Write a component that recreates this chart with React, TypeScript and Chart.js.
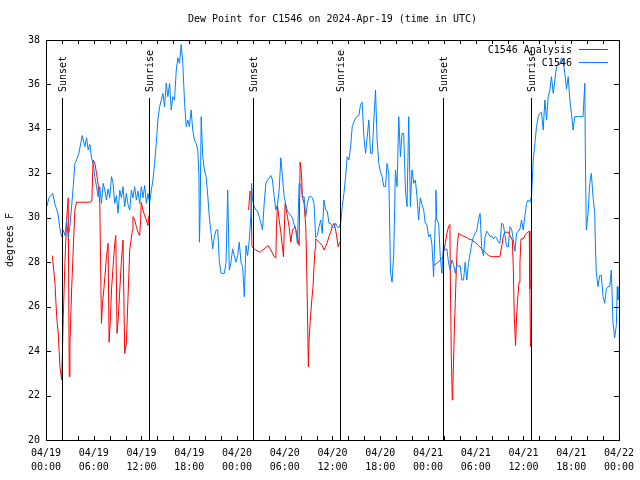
import React, { useEffect, useRef } from 'react';
import { Chart, registerables } from 'chart.js';

Chart.register(...registerables);

const TITLE = 'Dew Point for C1546 on 2024-Apr-19 (time in UTC)';
const Y_AXIS_TITLE = 'degrees F';
const SERIES_NAMES = ['C1546 Analysis', 'C1546'];
const SERIES_COLORS = ['#ff0000', '#0080ff'];

const X_TICK_DATES = ['04/19', '04/19', '04/19', '04/19', '04/20', '04/20', '04/20', '04/20', '04/21', '04/21', '04/21', '04/21', '04/22'];
const X_TICK_TIMES = ['00:00', '06:00', '12:00', '18:00', '00:00', '06:00', '12:00', '18:00', '00:00', '06:00', '12:00', '18:00', '00:00'];
const Y_TICK_LABELS = ['20', '22', '24', '26', '28', '30', '32', '34', '36', '38'];

// hours since 2024-04-19 00:00 UTC
const SUN_HOURS = [2.0, 12.94, 25.96, 36.9, 49.88, 60.9];
const SUN_LABELS = ['Sunset', 'Sunrise', 'Sunset', 'Sunrise', 'Sunset', 'Sunrise'];

const OBS_HOURS = [
  0.09, 0.38, 0.84, 1.13, 1.5, 1.75, 1.97, 2.17, 2.38, 2.59, 2.79, 3.0, 3.22, 3.42, 3.63, 3.84, 4.13, 4.55, 4.88, 5.1,
  5.3, 5.51, 5.72, 5.92, 6.14, 6.35, 6.55, 6.76, 6.97, 7.18, 7.39, 7.6, 7.8, 8.01, 8.23, 8.43, 8.64, 8.85, 9.05, 9.27,
  9.48, 9.68, 9.89, 10.1, 10.31, 10.52, 10.73, 10.93, 11.14, 11.36, 11.56, 11.77, 11.98, 12.18, 12.4, 12.61, 12.81, 13.02, 13.24, 13.44,
  13.65, 13.86, 14.06, 14.28, 14.49, 14.69, 14.9, 15.11, 15.32, 15.53, 15.74, 15.94, 16.15, 16.37, 16.57, 16.78, 16.99, 17.19, 17.41, 17.62,
  17.82, 18.03, 18.24, 18.44, 18.66, 18.87, 19.07, 19.22, 19.28, 19.38, 19.5, 19.7, 19.91, 20.12, 20.33, 20.54, 20.75, 20.95, 21.16, 21.38,
  21.58, 21.79, 22.0, 22.41, 22.63, 22.83, 23.04, 23.25, 23.45, 23.66, 23.87, 24.08, 24.29, 24.5, 24.71, 24.92, 25.13, 25.33, 25.55, 25.76,
  25.83, 25.96, 26.17, 26.38, 26.58, 26.8, 27.01, 27.21, 27.42, 27.63, 27.84, 28.26, 28.46, 28.67, 28.89, 29.09, 29.3, 29.51, 29.71, 29.93,
  30.14, 30.34, 30.55, 30.97, 31.18, 31.39, 31.59, 31.81, 32.02, 32.22, 32.43, 32.64, 32.85, 33.06, 33.27, 33.47, 33.68, 33.89, 34.1, 34.31,
  34.52, 34.72, 34.93, 35.14, 35.35, 35.56, 35.77, 35.97, 36.19, 36.4, 36.6, 36.81, 37.03, 37.23, 37.44, 37.65, 37.85, 38.07, 38.28, 38.48,
  38.69, 38.91, 39.11, 39.32, 39.53, 39.73, 39.95, 40.16, 40.36, 40.57, 40.78, 40.99, 41.2, 41.41, 41.61, 41.82, 42.04, 42.24, 42.45, 42.66,
  42.86, 43.08, 43.29, 43.49, 43.7, 43.91, 44.12, 44.33, 44.54, 44.74, 44.95, 45.17, 45.37, 45.58, 45.79, 45.99, 46.21, 46.42, 46.62, 46.83,
  47.04, 47.25, 47.46, 47.67, 47.87, 48.09, 48.3, 48.5, 48.71, 48.92, 48.99, 49.12, 49.34, 49.55, 49.75, 49.96, 50.18, 50.38, 50.59, 50.8,
  51.0, 51.22, 51.43, 51.63, 51.84, 52.05, 52.25, 52.47, 52.68, 52.88, 53.09, 53.3, 53.51, 53.72, 53.93, 54.13, 54.34, 54.55, 54.76, 54.97,
  55.18, 55.38, 55.59, 55.8, 56.01, 56.22, 56.43, 56.63, 56.84, 57.05, 57.26, 57.47, 57.68, 57.88, 58.1, 58.31, 58.51, 58.72, 58.93, 59.13,
  59.35, 59.56, 59.76, 59.97, 60.19, 60.39, 60.6, 60.81, 61.01, 61.23, 61.44, 61.64, 61.86, 62.07, 62.27, 62.48, 62.69, 62.9, 63.11, 63.32,
  63.52, 63.74, 63.95, 64.15, 64.36, 64.58, 64.78, 64.99, 65.2, 65.41, 65.62, 65.83, 66.03, 66.24, 66.45, 66.87, 67.49, 67.71, 67.78, 67.9,
  68.12, 68.33, 68.53, 68.74, 68.96, 69.03, 69.15, 69.37, 69.58, 69.78, 70.0, 70.21, 70.41, 70.62, 70.84, 71.04, 71.25, 71.46, 71.67, 71.79,
  71.88,
];
const OBS_VALUES = [
  30.5, 30.9, 31.1, 30.6, 30.2, 29.5, 29.15, 29.45, 29.2, 29.9, 29.1, 29.6, 30.5, 31.4, 32.45, 32.6, 32.9, 33.7, 33.2, 33.6,
  33.05, 33.3, 32.7, 32.45, 31.85, 31.4, 30.95, 31.4, 30.65, 31.55, 31.25, 30.8, 31.3, 30.9, 31.85, 31.55, 30.65, 31.0, 30.2, 31.25,
  30.9, 31.4, 30.5, 31.1, 30.6, 30.35, 31.25, 30.9, 31.4, 30.8, 31.2, 30.65, 31.4, 30.9, 31.45, 30.65, 31.1, 30.65, 31.25, 31.7,
  32.45, 33.35, 34.4, 35.0, 35.3, 35.6, 35.0, 36.05, 35.45, 36.05, 34.85, 35.45, 35.3, 36.65, 37.2, 36.95, 37.8, 36.95, 35.2, 34.1,
  34.4, 34.1, 34.85, 33.95, 33.5, 33.35, 33.05, 31.85, 28.9, 30.35, 34.55, 32.75, 32.15, 31.85, 31.0, 29.95, 29.3, 28.6, 29.15, 29.45,
  29.45, 28.0, 27.5, 27.5, 28.0, 31.25, 27.65, 28.0, 28.6, 28.3, 28.0, 28.3, 28.9, 28.0, 27.8, 26.45, 28.75, 28.3, 29.0, 30.2,
  31.55, 30.8, 30.5, 30.35, 30.3, 30.05, 29.75, 29.45, 30.65, 31.55, 31.7, 31.9, 31.7, 30.95, 30.35, 30.6, 31.25, 32.7, 31.85, 30.95,
  30.6, 30.3, 30.2, 30.0, 29.7, 29.45, 28.85, 31.55, 31.5, 30.95, 30.95, 30.05, 30.65, 30.95, 30.95, 30.9, 30.65, 29.1, 29.2, 29.6,
  29.9, 29.3, 30.8, 30.35, 30.3, 29.75, 29.75, 29.6, 29.55, 29.75, 29.6, 29.55, 29.75, 30.5, 31.1, 31.85, 32.75, 32.6, 33.2, 34.1,
  34.3, 34.5, 34.55, 34.6, 35.1, 35.2, 33.65, 32.9, 33.6, 34.4, 32.9, 32.9, 34.4, 35.75, 33.5, 32.45, 32.05, 31.85, 31.4, 31.4,
  32.45, 31.95, 27.55, 27.1, 28.4, 32.15, 31.4, 34.55, 32.75, 33.8, 33.8, 31.25, 30.5, 34.55, 30.5, 32.15, 31.55, 31.7, 30.95, 29.9,
  30.9, 30.6, 30.35, 29.75, 29.7, 29.15, 29.25, 28.8, 27.35, 29.9, 31.25, 29.9, 29.75, 28.25, 27.5, 28.8, 28.55, 28.6, 27.95, 27.65,
  28.1, 27.9, 27.5, 27.9, 27.8, 27.85, 27.2, 27.2, 28.0, 27.2, 27.95, 28.4, 28.85, 29.15, 29.3, 29.4, 29.9, 30.2, 28.6, 28.3,
  29.15, 29.4, 29.3, 29.15, 29.2, 29.05, 29.15, 29.1, 28.9, 28.85, 29.75, 29.7, 29.2, 28.7, 28.7, 29.6, 29.5, 29.0, 28.5, 29.3,
  29.4, 29.5, 29.9, 29.45, 30.1, 30.65, 30.8, 30.7, 30.95, 32.6, 33.35, 34.1, 34.55, 34.7, 34.75, 33.95, 35.3, 34.4, 35.45, 35.75,
  36.35, 35.6, 36.2, 36.8, 36.95, 36.9, 37.2, 37.05, 36.5, 35.8, 36.35, 35.3, 34.7, 33.95, 34.55, 34.55, 34.55, 36.05, 32.75, 29.45,
  30.2, 31.55, 32.0, 30.95, 30.2, 28.9, 27.55, 26.9, 27.4, 27.4, 26.45, 26.15, 26.8, 26.9, 26.9, 27.65, 25.3, 24.6, 25.15, 26.9,
  26.3,
];

const ANALYSIS_HOURS = [
  0.79, 1.13, 1.34, 1.54, 1.75, 1.97, 2.09, 2.17, 2.38, 2.59, 2.79, 2.92, 3.01, 3.22, 3.42, 3.63, 3.84, 5.51, 5.76, 5.92,
  6.14, 6.35, 6.55, 6.76, 6.85, 6.97, 7.1, 7.26, 7.39, 7.6, 7.8, 7.93, 8.1, 8.23, 8.43, 8.64, 8.77, 8.93, 9.1, 9.27,
  9.48, 9.68, 9.89, 10.1, 10.31, 10.52, 10.86, 10.93, 11.14, 11.36, 11.56, 11.77, 11.9, 11.96, 12.18, 12.4, 12.61, 12.81, 12.94,
  19.0,
  25.46, 25.63, 25.76, 25.88, 26.17, 26.38, 26.88, 27.42, 27.92, 28.26, 28.67, 28.89, 28.96, 29.09, 29.3, 29.51, 29.71, 29.84, 30.05, 30.34,
  30.55, 30.77, 30.97, 31.31, 31.59, 31.81, 31.93, 32.1, 32.22, 32.43, 32.64, 32.72, 32.85, 32.97, 33.06, 33.19, 33.4, 33.56, 33.68, 33.81,
  33.89, 34.31, 34.72, 34.93, 35.14, 35.35, 35.56, 35.77, 35.97, 36.19, 36.4, 36.6, 36.72, 36.9,
  43.0,
  48.71, 49.12, 49.55, 49.84, 50.18, 50.38, 50.59, 50.76, 50.8, 50.93, 51.06, 51.13, 51.22, 51.31, 51.43, 51.56, 51.68, 51.84, 52.25, 52.68,
  53.09, 53.51, 53.93, 54.34, 54.76, 55.18, 55.59, 56.01, 57.05, 57.18, 57.34, 57.47, 57.68, 58.1, 58.31, 58.6, 58.72, 58.85, 59.01, 59.13,
  59.26, 59.44, 59.56, 59.69, 59.97, 60.19, 60.39, 60.6, 60.73, 60.81, 60.89,
];
const ANALYSIS_VALUES = [
  28.3, 27.05, 25.55, 24.8, 23.3, 22.7, 24.35, 25.55, 28.0, 29.9, 30.9, 22.85, 24.35, 26.75, 28.55, 30.35, 30.7, 30.7, 30.75, 32.6,
  32.45, 32.0, 31.5, 30.65, 28.2, 25.25, 26.15, 26.75, 27.3, 28.25, 28.85, 24.4, 25.5, 26.75, 27.8, 28.85, 29.2, 24.8, 25.55, 26.75,
  28.1, 29.0, 23.9, 24.35, 26.45, 28.55, 29.45, 30.05, 29.9, 29.6, 29.35, 29.2, 29.95, 30.7, 30.35, 30.1, 29.9, 29.65, 30.1,
  null,
  30.35, 31.2, 31.1, 28.7, 28.6, 28.55, 28.45, 28.6, 28.75, 28.55, 28.25, 28.2, 29.6, 30.55, 29.9, 29.35, 28.7, 28.25, 30.65, 30.05,
  29.6, 28.9, 29.45, 29.6, 29.15, 28.75, 32.5, 32.0, 30.95, 30.65, 29.6, 28.55, 25.85, 23.3, 24.5, 25.3, 26.3, 26.9, 27.8, 28.6,
  29.05, 28.9, 28.75, 28.55, 28.7, 28.9, 29.15, 29.35, 29.6, 29.75, 29.45, 29.0, 28.7, 28.9,
  null,
  27.85, 27.95, 28.1, 28.2, 28.85, 29.3, 29.6, 29.7, 27.65, 23.75, 21.8, 22.4, 23.6, 24.9, 26.15, 27.65, 28.7, 29.3, 29.2, 29.15,
  29.05, 29.0, 28.9, 28.75, 28.6, 28.45, 28.3, 28.25, 28.25, 28.55, 28.85, 29.2, 29.35, 29.35, 29.2, 29.0, 27.8, 25.5, 24.25, 25.5,
  26.3, 27.1, 28.0, 29.05, 29.05, 29.2, 29.3, 29.35, 29.4, 26.8, 24.2,
];

const FONT = "10px 'DejaVu Sans Mono', monospace";

const decorPlugin = {
  id: 'decor',
  afterDatasetsDraw(chart: any) {
    const { ctx, chartArea: a, scales } = chart;
    const xs = scales.x;
    const ys = scales.y;
    ctx.save();
    ctx.strokeStyle = '#000';
    ctx.fillStyle = '#000';
    ctx.lineWidth = 1;
    ctx.font = FONT;

    // sunrise / sunset markers
    const lineTop = Math.round(a.top + 0.146 * (a.bottom - a.top));
    SUN_HOURS.forEach((h, i) => {
      const px = Math.round(xs.getPixelForValue(h)) + 0.5;
      ctx.beginPath();
      ctx.moveTo(px, lineTop);
      ctx.lineTo(px, a.bottom);
      ctx.stroke();
      ctx.save();
      ctx.translate(px + 1, lineTop - 6);
      ctx.rotate(-Math.PI / 2);
      ctx.textAlign = 'left';
      ctx.textBaseline = 'middle';
      ctx.fillText(SUN_LABELS[i], 0, 0);
      ctx.restore();
    });

    // frame
    ctx.strokeRect(a.left + 0.5, a.top + 0.5, a.right - a.left, a.bottom - a.top);

    // x tick marks (every 2 hours), bottom and top
    for (let h = 0; h <= 72; h += 2) {
      const px = Math.round(xs.getPixelForValue(h)) + 0.5;
      ctx.beginPath();
      ctx.moveTo(px, a.bottom);
      ctx.lineTo(px, a.bottom - 4);
      ctx.moveTo(px, a.top);
      ctx.lineTo(px, a.top + 4);
      ctx.stroke();
    }
    // y tick marks, left and right
    ys.ticks.forEach((t: any) => {
      const py = Math.round(ys.getPixelForValue(t.value)) + 0.5;
      ctx.beginPath();
      ctx.moveTo(a.left, py);
      ctx.lineTo(a.left + 5, py);
      ctx.moveTo(a.right, py);
      ctx.lineTo(a.right - 5, py);
      ctx.stroke();
    });

    // title
    ctx.textAlign = 'center';
    ctx.textBaseline = 'middle';
    ctx.fillText(TITLE, (a.left + a.right) / 2, a.top - 21);

    // y-axis title
    ctx.save();
    ctx.translate(10, (a.top + a.bottom) / 2);
    ctx.rotate(-Math.PI / 2);
    ctx.textAlign = 'center';
    ctx.textBaseline = 'middle';
    ctx.fillText(Y_AXIS_TITLE, 0, 0);
    ctx.restore();

    // legend
    SERIES_NAMES.forEach((name, i) => {
      const ly = a.top + 10 + i * 13;
      ctx.textAlign = 'right';
      ctx.textBaseline = 'middle';
      ctx.fillStyle = '#000';
      ctx.fillText(name, a.right - 47, ly);
      ctx.strokeStyle = SERIES_COLORS[i];
      ctx.beginPath();
      ctx.moveTo(a.right - 40, ly - 0.5);
      ctx.lineTo(a.right - 11, ly - 0.5);
      ctx.stroke();
    });
    ctx.restore();
  },
};

export default function App() {
  const canvasRef = useRef<HTMLCanvasElement | null>(null);

  useEffect(() => {
    if (!canvasRef.current) return;
    const analysis = ANALYSIS_HOURS.map((h, i) => ({ x: h, y: ANALYSIS_VALUES[i] }));
    const obs = OBS_HOURS.map((h, i) => ({ x: h, y: OBS_VALUES[i] }));
    const chart = new Chart(canvasRef.current, {
      type: 'line',
      data: {
        datasets: [
          {
            label: SERIES_NAMES[0],
            data: analysis,
            borderColor: SERIES_COLORS[0],
            backgroundColor: SERIES_COLORS[0],
            borderWidth: 1,
            pointRadius: 0,
            spanGaps: false,
            tension: 0,
            order: 1,
          },
          {
            label: SERIES_NAMES[1],
            data: obs,
            borderColor: SERIES_COLORS[1],
            backgroundColor: SERIES_COLORS[1],
            borderWidth: 1,
            pointRadius: 0,
            tension: 0,
            order: 0,
          },
        ],
      },
      options: {
        animation: false,
        responsive: false,
        devicePixelRatio: 1,
        layout: { padding: { top: 40, right: 19, left: 0, bottom: 0 } },
        plugins: {
          legend: { display: false },
          title: { display: false },
          tooltip: { enabled: false },
        },
        scales: {
          x: {
            type: 'linear',
            min: 0,
            max: 72,
            grid: { display: false, drawTicks: false },
            border: { display: false },
            ticks: {
              stepSize: 6,
              autoSkip: false,
              maxRotation: 0,
              minRotation: 0,
              padding: 6,
              color: '#000',
              font: { family: "'DejaVu Sans Mono', monospace", size: 10, lineHeight: 1.4 },
              callback: (v: any) => {
                const i = Math.round(Number(v) / 6);
                return [X_TICK_DATES[i], X_TICK_TIMES[i]];
              },
            },
            afterFit: (s: any) => {
              s.height = 40;
            },
          },
          y: {
            min: 20,
            max: 38,
            grid: { display: false, drawTicks: false },
            border: { display: false },
            ticks: {
              stepSize: 2,
              padding: 6,
              color: '#000',
              font: { family: "'DejaVu Sans Mono', monospace", size: 10 },
              callback: (v: any) => Y_TICK_LABELS[Math.round((Number(v) - 20) / 2)],
            },
            afterFit: (s: any) => {
              s.width = 46;
            },
          },
        },
      },
      plugins: [decorPlugin],
    });
    return () => chart.destroy();
  }, []);

  return (
    <div style={{ position: 'absolute', left: 0, top: 0, width: 640, height: 480, background: '#fff' }}>
      <canvas ref={canvasRef} width={640} height={480} style={{ width: 640, height: 480 }} />
    </div>
  );
}
